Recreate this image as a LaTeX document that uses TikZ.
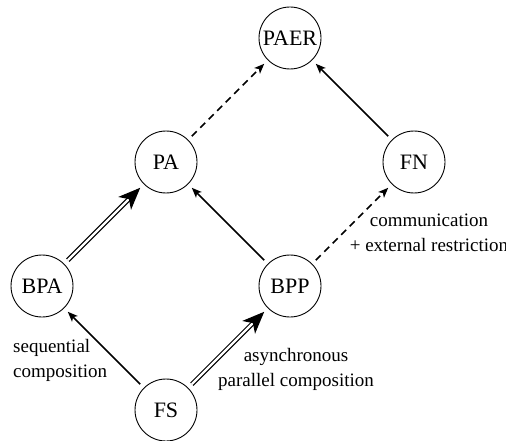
\documentclass[tikz,border=0pt]{standalone}
\usepackage{fontspec}
\setmainfont{Liberation Serif}
\usetikzlibrary{arrows.meta}

\begin{document}
\begin{tikzpicture}[
    x=124pt, y=124pt,
    font=\fontsize{19}{25}\selectfont,
    proc/.style={circle, draw, line width=0.9pt, minimum size=62pt, inner sep=0pt,
                 font=\fontsize{22}{24}\selectfont},
    arr/.style={line width=1.6pt, -{Stealth[length=10pt, width=8pt, inset=2.5pt]},
                shorten >=5pt, shorten <=5pt},
    dasharr/.style={arr, dash pattern=on 7pt off 5pt},
    dblarr/.style={double, double distance=2.2pt, line width=1.2pt,
                   -{Stealth[length=22pt, width=18pt, inset=6pt]},
                   shorten >=5pt, shorten <=5pt},
    note/.style={align=#1, inner sep=0pt},
    note/.default=center
]
    \useasboundingbox (-42pt,-30pt) rectangle (464pt,410pt);

    % Process classes
    \node[proc] (FS)   at (1,0) {FS};
    \node[proc] (BPA)  at (0,1) {BPA};
    \node[proc] (BPP)  at (2,1) {BPP};
    \node[proc] (PA)   at (1,2) {PA};
    \node[proc] (FN)   at (3,2) {FN};
    \node[proc] (PAER) at (2,3) {PAER};

    % Inclusions
    \draw[arr] (FS) -- (BPA);
    \draw[dblarr] (FS) -- (BPP);
    \draw[dblarr] (BPA) -- (PA);
    \draw[arr] (BPP) -- (PA);
    \draw[dasharr] (BPP) -- (FN);
    \draw[dasharr] (PA) -- (PAER);
    \draw[arr] (FN) -- (PAER);

    % Operators
    \node[note=left, anchor=west] (seqlbl) at (-29pt,50pt) {sequential\\composition};
    \node[note] (parlbl) at (254pt,41pt) {asynchronous\\parallel composition};
    \node[note] (commlbl) at (387pt,177pt) {communication\\+ external restriction};
\end{tikzpicture}
\end{document}
